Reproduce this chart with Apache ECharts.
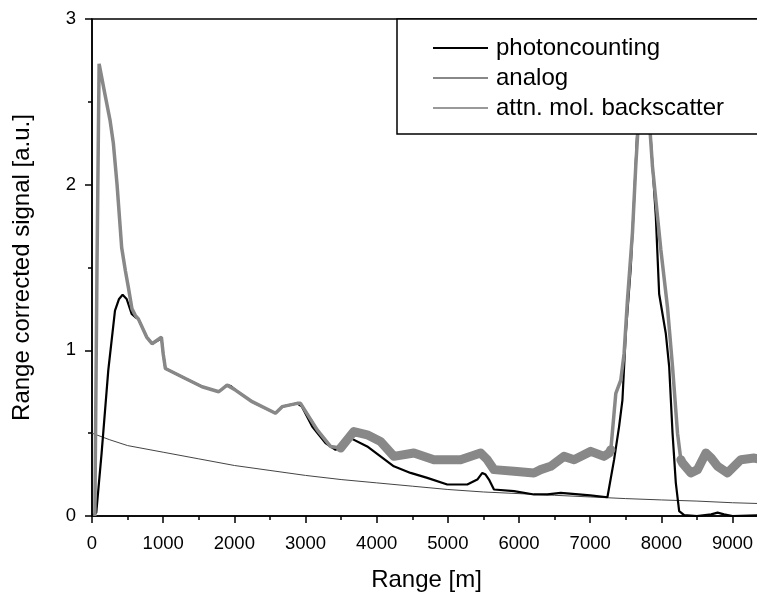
<!DOCTYPE html>
<html>
<head>
<meta charset="utf-8">
<script src="https://cdn.jsdelivr.net/npm/echarts@6/dist/echarts.min.js"></script>
<style>
  html, body { margin: 0; padding: 0; background: #fff; }
  #chart { width: 757px; height: 593px; }
</style>
</head>
<body>
<div id="chart"></div>
<script>
// values: [range m, signal a.u.]
var photoncounting = [
  [0, 0], [60, 0.02], [135, 0.38], [229, 0.88], [323, 1.24], [380, 1.31], [430, 1.335],
  [487, 1.31], [557, 1.22], [610, 1.2], [651, 1.19], [768, 1.08], [844, 1.04], [930, 1.06],
  [975, 1.08], [1000, 0.98], [1031, 0.89], [1312, 0.83], [1547, 0.78], [1781, 0.75],
  [1898, 0.79], [1950, 0.785], [2015, 0.76], [2250, 0.69], [2578, 0.62], [2672, 0.66],
  [2883, 0.68], [2950, 0.66], [3094, 0.54], [3281, 0.44], [3422, 0.40], [3539, 0.42],
  [3633, 0.47], [3867, 0.42], [4054, 0.36], [4241, 0.30], [4476, 0.26], [4711, 0.23],
  [4992, 0.19], [5273, 0.19], [5414, 0.22], [5484, 0.26], [5530, 0.25], [5578, 0.22],
  [5648, 0.16], [5929, 0.15], [6210, 0.13], [6398, 0.13], [6586, 0.14], [7000, 0.125],
  [7242, 0.113], [7265, 0.12], [7336, 0.34], [7406, 0.54], [7453, 0.70], [7500, 1.10],
  [7570, 1.50], [7617, 1.91], [7655, 2.27], [7740, 2.9], [7852, 2.27], [7922, 1.81],
  [7969, 1.34], [8063, 1.10], [8110, 0.90], [8157, 0.50], [8203, 0.20], [8250, 0.03],
  [8321, 0.005], [8500, 0], [8700, 0.01], [8790, 0.02], [8880, 0.01], [9000, 0], [9400, 0.005]
];
var analog = [
  [40, 0], [70, 1.5], [100, 2.73], [180, 2.55], [253, 2.39], [300, 2.25], [352, 2.0],
  [417, 1.62], [469, 1.48], [511, 1.38], [562, 1.25], [610, 1.21], [651, 1.19], [768, 1.08],
  [844, 1.04], [975, 1.08], [1000, 0.98], [1031, 0.89], [1312, 0.83], [1547, 0.78],
  [1781, 0.75], [1898, 0.79], [2015, 0.76], [2250, 0.69], [2578, 0.62], [2672, 0.66],
  [2883, 0.68], [2930, 0.68], [3164, 0.52], [3351, 0.42], [3492, 0.41], [3679, 0.51],
  [3867, 0.49], [4054, 0.45], [4241, 0.36], [4523, 0.38], [4804, 0.34], [5179, 0.34],
  [5460, 0.38], [5554, 0.34], [5648, 0.28], [5929, 0.27], [6210, 0.26], [6304, 0.28],
  [6445, 0.30], [6632, 0.36], [6773, 0.34], [7008, 0.39], [7195, 0.36], [7265, 0.38],
  [7290, 0.40], [7360, 0.74], [7430, 0.82], [7476, 0.98], [7523, 1.30], [7594, 1.71],
  [7640, 2.11], [7750, 2.9], [7875, 2.11], [7992, 1.61], [8086, 1.26], [8157, 0.90],
  [8227, 0.50], [8274, 0.34], [8297, 0.32], [8414, 0.26], [8508, 0.28], [8626, 0.38],
  [8700, 0.35], [8790, 0.30], [8930, 0.26], [9117, 0.34], [9304, 0.35], [9400, 0.34]
];
var molBackscatter = [
  [0, 0.50], [250, 0.46], [500, 0.425], [1000, 0.385], [1500, 0.345], [2000, 0.305],
  [2500, 0.275], [3000, 0.245], [3500, 0.22], [4000, 0.20], [4500, 0.18], [5000, 0.16],
  [5500, 0.145], [6000, 0.135], [6500, 0.125], [7000, 0.115], [7500, 0.105], [8000, 0.097],
  [8500, 0.09], [9000, 0.08], [9400, 0.075]
];
var seriesNames = ['photoncounting', 'analog', 'attn. mol. backscatter'];
var xTicks = { min: 0, max: 9400, interval: 1000 };
var yTicks = { min: 0, max: 3, interval: 1 };

// noisy flat parts of the analog trace are drawn as a wider band
var analogBand = analog.filter(function (p) { return p[0] >= 3400 && p[0] <= 7290; })
  .concat([[7300, null]])
  .concat(analog.filter(function (p) { return p[0] >= 8274; }));

var font = 'Liberation Sans, Arial, sans-serif';
var chart = echarts.init(document.getElementById('chart'));
chart.setOption({
  backgroundColor: '#fff',
  animation: false,
  grid: {
    left: 92, top: 19, right: -4, bottom: 77,
    outerBoundsMode: 'none', containLabel: false,
    show: true, borderColor: '#000', borderWidth: 1.5, backgroundColor: 'transparent'
  },
  legend: {
    orient: 'vertical',
    left: 397, top: 19,
    padding: [17, 40, 14, 36],
    backgroundColor: '#fff',
    borderColor: '#000',
    borderWidth: 1.5,
    borderRadius: 0,
    itemWidth: 55, itemHeight: 2, itemGap: 6,
    icon: 'rect',
    textStyle: { fontFamily: font, fontSize: 24, color: '#000', padding: [0, 0, 0, 3] },
    data: [
      { name: seriesNames[0], itemStyle: { color: '#000' } },
      { name: seriesNames[1], itemStyle: { color: '#888' } },
      { name: seriesNames[2], itemStyle: { color: '#999' } }
    ],
    z: 10
  },
  xAxis: {
    type: 'value',
    min: xTicks.min, max: xTicks.max, interval: xTicks.interval,
    name: 'Range [m]', nameLocation: 'middle', nameGap: 52,
    nameTextStyle: { fontFamily: font, fontSize: 24, color: '#000' },
    axisLine: { show: true, lineStyle: { color: '#000', width: 1.5 } },
    axisTick: { show: true, inside: false, length: 7, lineStyle: { color: '#000', width: 1.5 } },
    minorTick: { show: true, splitNumber: 2, length: 4, lineStyle: { color: '#000', width: 1.5 } },
    axisLabel: {
      fontFamily: font, fontSize: 18.5, color: '#000', margin: 18, showMaxLabel: false,
      formatter: function (v) { return String(v); }
    },
    splitLine: { show: false }
  },
  yAxis: {
    type: 'value',
    min: yTicks.min, max: yTicks.max, interval: yTicks.interval,
    name: 'Range corrected signal [a.u.]', nameLocation: 'middle', nameGap: 58,
    nameTextStyle: { fontFamily: font, fontSize: 24, color: '#000' },
    axisLine: { show: true, lineStyle: { color: '#000', width: 1.5 } },
    axisTick: { show: true, inside: false, length: 7, lineStyle: { color: '#000', width: 1.5 } },
    minorTick: { show: true, splitNumber: 2, length: 4, lineStyle: { color: '#000', width: 1.5 } },
    axisLabel: { fontFamily: font, fontSize: 18.5, color: '#000', margin: 16 },
    splitLine: { show: false }
  },
  series: [
    {
      name: seriesNames[2], type: 'line', data: molBackscatter, showSymbol: false,
      color: '#444', lineStyle: { width: 1, color: '#444' }, z: 2
    },
    {
      name: seriesNames[0], type: 'line', data: photoncounting, showSymbol: false,
      color: '#000', lineStyle: { width: 2.2, color: '#000' }, z: 3
    },
    {
      name: seriesNames[1], type: 'line', data: analog, showSymbol: false,
      color: '#888', lineStyle: { width: 3.5, color: '#888' }, z: 4
    },
    {
      name: seriesNames[1], type: 'line', data: analogBand, showSymbol: false, connectNulls: false,
      color: '#888', lineStyle: { width: 9, color: '#888', join: 'round', cap: 'round' }, z: 4
    }
  ]
});
</script>
</body>
</html>
